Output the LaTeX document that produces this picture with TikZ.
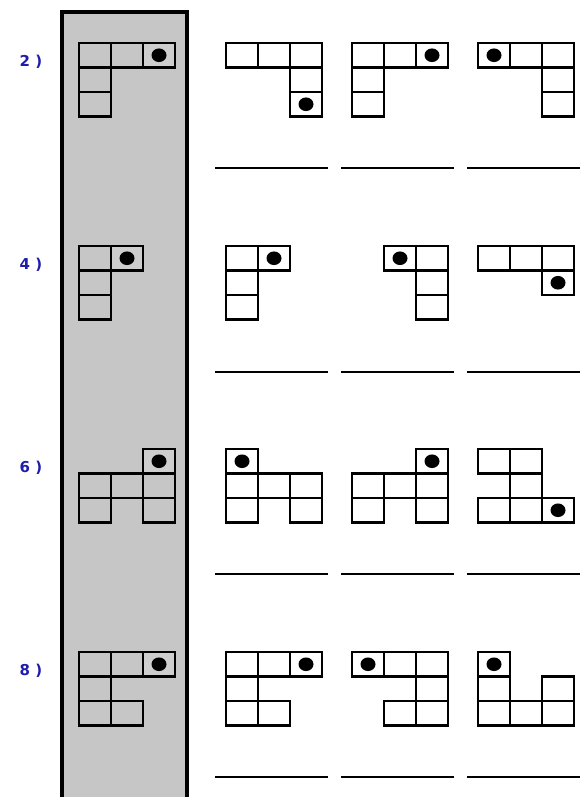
\documentclass[tikz,border=0pt]{standalone}
\usepackage{fontspec}
\setmainfont{DejaVu Sans}
\definecolor{bgray}{HTML}{C6C6C6}
\definecolor{dgray}{HTML}{CECECE}
\definecolor{lblue}{HTML}{1E1EAA}
\tikzset{
  cellbox/.style={draw=black,line width=2.1pt},
  dotmark/.style={fill=black},
  ansline/.style={draw=black,line width=1.6pt},
  numlabel/.style={text=lblue,font=\bfseries\fontsize{15}{17}\selectfont,inner sep=0pt},
  panel/.style={fill=bgray,draw=black,line width=4.5pt}
}
% #1 x0, #2 y0, #3 cells c/r, #4 dot col, #5 dot row, #6 dot cell fill
\newcommand{\tilepiece}[6]{%
  \fill[#6] ({#1+#4*32},{#2+#5*24.5}) rectangle ++(32,24.5);
  \foreach \cc/\rr in {#3} {\draw[cellbox] ({#1+\cc*32},{#2+\rr*24.5}) rectangle ++(32,24.5);}
  \fill[dotmark] ({#1+(#4+0.5)*32},{#2+(#5+0.5)*24.5}) ellipse (7.5 and 6.8);
}
\begin{document}
\begin{tikzpicture}[x=1pt,y=-1pt]
\useasboundingbox (0,0) rectangle (582,797);
\clip (0,0) rectangle (582,797);
\fill[white] (0,0) rectangle (582,797);
\draw[panel] (62,12) rectangle (187,810);
% labels
\node[numlabel] (l2) at (31,62) {2 )};
\node[numlabel] (l4) at (31,265) {4 )};
\node[numlabel] (l6) at (31,468) {6 )};
\node[numlabel] (l8) at (31,671) {8 )};
% row 2 (top 43)
\tilepiece{79}{43}{0/0,1/0,2/0,0/1,0/2}{2}{0}{dgray}
\tilepiece{226}{43}{0/0,1/0,2/0,2/1,2/2}{2}{2}{white}
\tilepiece{352}{43}{0/0,1/0,2/0,0/1,0/2}{2}{0}{white}
\tilepiece{478}{43}{0/0,1/0,2/0,2/1,2/2}{0}{0}{white}
% row 4 (top 246)
\tilepiece{79}{246}{0/0,1/0,0/1,0/2}{1}{0}{dgray}
\tilepiece{226}{246}{0/0,1/0,0/1,0/2}{1}{0}{white}
\tilepiece{352}{246}{1/0,2/0,2/1,2/2}{1}{0}{white}
\tilepiece{478}{246}{0/0,1/0,2/0,2/1}{2}{1}{white}
% row 6 (top 449)
\tilepiece{79}{449}{2/0,0/1,1/1,2/1,0/2,2/2}{2}{0}{dgray}
\tilepiece{226}{449}{0/0,0/1,1/1,2/1,0/2,2/2}{0}{0}{white}
\tilepiece{352}{449}{2/0,0/1,1/1,2/1,0/2,2/2}{2}{0}{white}
\tilepiece{478}{449}{0/0,1/0,1/1,0/2,1/2,2/2}{2}{2}{white}
% row 8 (top 652)
\tilepiece{79}{652}{0/0,1/0,2/0,0/1,0/2,1/2}{2}{0}{dgray}
\tilepiece{226}{652}{0/0,1/0,2/0,0/1,0/2,1/2}{2}{0}{white}
\tilepiece{352}{652}{0/0,1/0,2/0,2/1,1/2,2/2}{0}{0}{white}
\tilepiece{478}{652}{0/0,0/1,2/1,0/2,1/2,2/2}{0}{0}{white}
% answer lines
\foreach \yy in {168,372,574,777} {
  \draw[ansline] (215,\yy) -- (328,\yy);
  \draw[ansline] (341,\yy) -- (454,\yy);
  \draw[ansline] (467,\yy) -- (580,\yy);
}
\end{tikzpicture}
\end{document}
